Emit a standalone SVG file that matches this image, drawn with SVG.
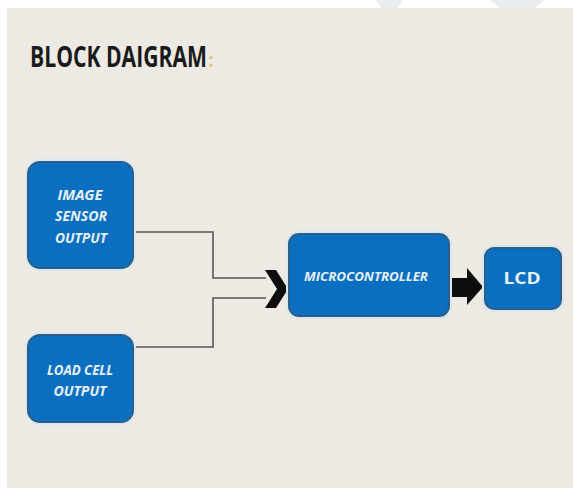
<svg xmlns="http://www.w3.org/2000/svg" width="573" height="488" viewBox="0 0 573 488">
  <defs>
    <style>
      .box { fill: #0A6FC1; stroke: #2D5E86; stroke-width: 2; }
      .halo { fill: none; stroke: #D9E7F0; stroke-width: 2; }
      .lbl { font-family: "Open Sans", "Liberation Sans", sans-serif; font-weight: bold; font-style: italic; fill: #E6F0FA; text-anchor: middle; }
      .wire { fill: none; stroke: #555555; stroke-width: 1.6; }
    </style>
  </defs>
  <rect x="0" y="0" width="573" height="488" fill="#FFFFFF"/>
  <rect x="7" y="8" width="566" height="480" fill="#EDEAE3"/>
  <g fill="#C9D2DA" opacity="0.4">
    <path d="M376 0 L381 8 L398 8 L403 0 Z"/>
    <path d="M490 0 L500 8 L535 8 L544 0 Z"/>
  </g>
  <g id="title">
    <text transform="translate(30,67) scale(0.755,1)" x="0" y="0" font-family="'Open Sans', 'Liberation Sans', sans-serif" font-weight="bold" font-size="28" fill="#1A1A1A">BLOCK DAIGRAM</text>
    <text x="208" y="67" font-family="'Open Sans', 'Liberation Sans', sans-serif" font-weight="bold" font-size="20" fill="#E3C278">:</text>
  </g>
  <g id="connectors">
    <polyline class="wire" points="133,232 213,232 213,278 266,278"/>
    <polyline class="wire" points="133,347 213,347 213,298 266,298"/>
    <polygon fill="#0D0D0D" points="265,270 276,270 288,289 276,308 265,308 277,289"/>
    <polygon fill="#0D0D0D" points="450,278 467,278 467,268 483,287 467,305 467,297 450,297"/>
  </g>
  <g id="image-sensor">
    <rect class="halo" x="26" y="160" width="109" height="110" rx="14"/>
    <rect class="box" x="28" y="162" width="105" height="106" rx="12"/>
    <text class="lbl" x="80" y="200" font-size="14" textLength="45" lengthAdjust="spacingAndGlyphs">IMAGE</text>
    <text class="lbl" x="81" y="221" font-size="14" textLength="52" lengthAdjust="spacingAndGlyphs">SENSOR</text>
    <text class="lbl" x="81" y="243" font-size="14" textLength="52" lengthAdjust="spacingAndGlyphs">OUTPUT</text>
  </g>
  <g id="load-cell">
    <rect class="halo" x="26" y="333" width="109" height="91" rx="14"/>
    <rect class="box" x="28" y="335" width="105" height="87" rx="12"/>
    <text class="lbl" x="80" y="375" font-size="14" textLength="66" lengthAdjust="spacingAndGlyphs">LOAD CELL</text>
    <text class="lbl" x="80" y="396" font-size="14" textLength="53" lengthAdjust="spacingAndGlyphs">OUTPUT</text>
  </g>
  <g id="microcontroller">
    <rect class="halo" x="287" y="232" width="164" height="86" rx="12"/>
    <rect class="box" x="289" y="234" width="160" height="82" rx="10"/>
    <text class="lbl" x="366" y="281" font-size="12" textLength="124" lengthAdjust="spacingAndGlyphs">MICROCONTROLLER</text>
  </g>
  <g id="lcd">
    <rect class="halo" x="483" y="246" width="80" height="65" rx="11"/>
    <rect class="box" x="485" y="248" width="76" height="61" rx="9"/>
    <text x="522" y="284" font-family="'Open Sans', 'Liberation Sans', sans-serif" font-weight="bold" font-size="16" fill="#E6F0FA" text-anchor="middle" textLength="37" lengthAdjust="spacingAndGlyphs">LCD</text>
  </g>
</svg>
